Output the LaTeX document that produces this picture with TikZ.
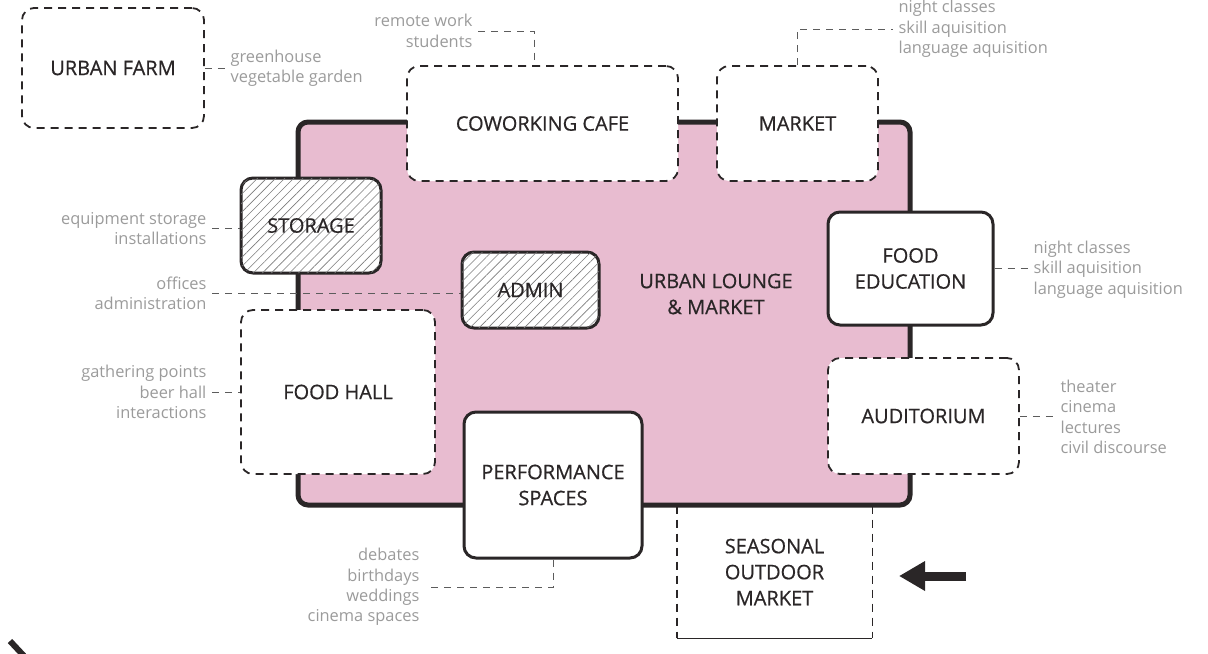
\documentclass[tikz,border=0pt]{standalone}
\usepackage{fontspec}
\setmainfont{Open Sans}
\newfontfamily\roomfont{Open Sans}[FakeBold=0.6]
\usetikzlibrary{patterns.meta,arrows.meta}
\definecolor{lounge}{HTML}{E8BCD0}
\definecolor{ink}{HTML}{2A2627}
\definecolor{note}{HTML}{9B9B9B}
\definecolor{leader}{HTML}{5C5C5C}
\tikzset{
  room/.style={rounded corners=6pt, fill=white, text=ink, align=center,
    inner sep=0pt, font=\roomfont\fontsize{10}{13}\selectfont},
  openroom/.style={room, draw=ink, line width=0.9pt, dash pattern=on 4pt off 3pt},
  closedroom/.style={room, draw=ink, line width=1.5pt},
  backroom/.style={closedroom, postaction={pattern={Lines[angle=45,distance=3.2pt,line width=0.3pt]}, pattern color=note!80!black}},
  notetext/.style={text=note, font=\fontsize{8.2}{10.2}\selectfont, inner sep=2.6pt},
  leaderline/.style={draw=leader, line width=0.5pt, dash pattern=on 3.5pt off 3pt},
}
\begin{document}
\begin{tikzpicture}[x=0.5pt,y=-0.5pt]
\useasboundingbox (0,0) rectangle (1208,653);
% main hall
\draw[fill=lounge, draw=ink, line width=2.5pt, rounded corners=5pt] (298,122) rectangle (910,505);
\node[text=ink, align=center, font=\roomfont\fontsize{10}{13}\selectfont] (lounge) at (716,294) {URBAN LOUNGE\\\& MARKET};
% rooms
\node[openroom, minimum width=91pt, minimum height=60pt] (farm) at (113,68) {URBAN FARM};
\node[openroom, minimum width=135.5pt, minimum height=57.5pt] (cowork) at (542.5,123.5) {COWORKING CAFE};
\node[openroom, minimum width=80.5pt, minimum height=57.5pt] (market) at (797.5,123.5) {MARKET};
\node[backroom, minimum width=70pt, minimum height=47.5pt] (storage) at (311,225.5) {STORAGE};
\node[openroom, minimum width=97pt, minimum height=82pt] (foodhall) at (338,392) {FOOD HALL};
\node[closedroom, minimum width=82.5pt, minimum height=56.5pt] (foodedu) at (910.5,268.5) {FOOD\\EDUCATION};
\node[openroom, minimum width=95.5pt, minimum height=58pt] (auditorium) at (923.5,416) {AUDITORIUM};
\node[closedroom, minimum width=89pt, minimum height=73pt] (perf) at (553,485) {PERFORMANCE\\SPACES};
\node[room, fill=none, minimum width=97.5pt, minimum height=66pt] (seasonal) at (774.5,572) {SEASONAL\\OUTDOOR\\MARKET};
\draw[draw=ink, line width=0.9pt, dash pattern=on 4pt off 3pt] (seasonal.north west) -- (seasonal.south west);
\draw[draw=ink, line width=0.9pt, dash pattern=on 4pt off 3pt] (seasonal.north east) -- (seasonal.south east);
\draw[draw=ink, line width=0.9pt] (seasonal.south west) -- (seasonal.south east);
% notes
\node[notetext, anchor=west, align=left] (farmnote) at (225,68) {greenhouse\\vegetable garden};
\node[notetext, anchor=east, align=right] (coworknote) at (478,31) {remote work\\students};
\node[notetext, anchor=west, align=left] (marketnote) at (893,29) {night classes\\skill aquisition\\language aquisition};
\node[notetext, anchor=east, align=right] (storagenote) at (212,228.5) {equipment storage\\installations};
\node[notetext, anchor=east, align=right] (adminnote) at (212,293.5) {offices\\administration};
\node[notetext, anchor=east, align=right] (hallnote) at (212,392) {gathering points\\beer hall\\interactions};
\node[notetext, anchor=west, align=left] (edunote) at (1028,269.5) {night classes\\skill aquisition\\language aquisition};
\node[notetext, anchor=west, align=left] (audinote) at (1055,417) {theater\\cinema\\lectures\\civil discourse};
\node[notetext, anchor=east, align=right] (perfnote) at (425,587) {debates\\birthdays\\weddings\\cinema spaces};
% leaders
\draw[leaderline] (farm.east) -- (farmnote.west);
\draw[leaderline] (coworknote.east) -| ([xshift=-4pt]cowork.north);
\draw[leaderline] (market.north) |- (marketnote.west);
\draw[leaderline] (storagenote.east) -- (storagenote.east -| storage.west);
\draw[leaderline] (adminnote.east) -- (adminnote.east -| 462,0);
\draw[leaderline] (hallnote.east) -- (hallnote.east -| foodhall.west);
\draw[leaderline] (foodedu.east) -- (foodedu.east -| edunote.west);
\draw[leaderline] (auditorium.east) -- (auditorium.east -| audinote.west);
\draw[leaderline] (perf.south) |- (perfnote.east);
\node[backroom, minimum width=68.5pt, minimum height=38pt] (admin) at (530.5,290) {ADMIN};
% entry arrow
\coordinate (entrytail) at (966,576);
\coordinate (entrytip) at (899,576);
\draw[ink, line width=4.5pt, -{Triangle[length=13pt,width=14pt]}] (entrytail) -- (entrytip);
\draw[ink, line width=3pt] (10,641) -- (24,656);
\end{tikzpicture}
\end{document}
